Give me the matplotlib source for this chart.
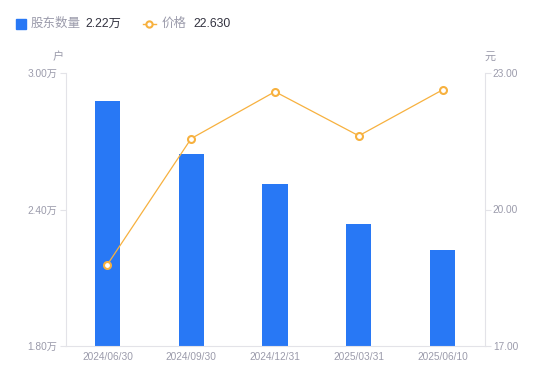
import matplotlib
matplotlib.use("Agg")
import matplotlib.pyplot as plt
from matplotlib.lines import Line2D

plt.rcParams['font.family'] = ['Liberation Sans', 'Noto Sans CJK SC', 'DejaVu Sans']

categories = ["2024/06/30", "2024/09/30", "2024/12/31", "2025/03/31", "2025/06/10"]
holders = [2.875, 2.643, 2.512, 2.336, 2.22]   # 万户
prices = [18.79, 21.56, 22.59, 21.62, 22.63]     # 元
left_ticks = [1.80, 2.40, 3.00]
right_ticks = [17.00, 20.00, 23.00]

bar_color = "#2878f5"
line_color = "#f7b13f"
grey = "#9b9bab"
axis_grey = "#e3e3e8"

fig = plt.figure(figsize=(5.5, 3.81), dpi=100)
ax = fig.add_axes([65.5/550, 1-346/381, 419/550, 273/381])
x = list(range(len(categories)))
ax.bar(x, holders, width=0.3, color=bar_color, zorder=2)
ax.set_xlim(-0.5, 4.5)
ax.set_ylim(1.80, 3.00)
ax.set_yticks(left_ticks)
ax.set_yticklabels([f"{v:.2f}万" for v in left_ticks])
ax.set_xticks(x)
ax.set_xticklabels(categories)

ax2 = ax.twinx()
ax2.plot(x, prices, color=line_color, lw=0.9, marker='o', markersize=5,
         markerfacecolor='white', markeredgecolor=line_color, markeredgewidth=1.5, zorder=3)
ax2.set_ylim(17.0, 23.0)
ax2.set_yticks(right_ticks)
ax2.set_yticklabels([f"{v:.2f}" for v in right_ticks])

for a in (ax, ax2):
    for s in a.spines.values():
        s.set_visible(False)
ax.spines['left'].set_visible(True)
ax.spines['left'].set_color(axis_grey)
ax.spines['bottom'].set_visible(True)
ax.spines['bottom'].set_color(axis_grey)
ax2.spines['right'].set_visible(True)
ax2.spines['right'].set_color(axis_grey)

ax.tick_params(axis='y', colors=axis_grey, labelcolor=grey, labelsize=7.3, length=4, width=0.8, pad=2)
ax.tick_params(axis='x', length=0, labelcolor=grey, labelsize=7.3, pad=4)
ax2.tick_params(axis='y', colors=axis_grey, labelcolor=grey, labelsize=7.3, length=4, width=0.8, pad=2)

fig.text(58/550, 1-57/381, "户", color=grey, fontsize=8, ha='center', va='center')
fig.text(490/550, 1-57/381, "元", color=grey, fontsize=8, ha='center', va='center')

# legend
ly = 1-24/381
fig.patches.append(plt.Rectangle((16/550, 1-29/381), 10/550, 10/381, transform=fig.transFigure,
                                 color=bar_color, figure=fig))
fig.text(31/550, ly, "股东数量", color=grey, fontsize=9, ha='left', va='center')
fig.text(85/550, ly, f"{holders[-1]:.2f}万", color="#333340", fontsize=8.8, ha='left', va='center')
fig.add_artist(Line2D([143/550, 156/550], [ly, ly], transform=fig.transFigure, color=line_color, lw=1))
fig.add_artist(Line2D([149.5/550], [ly], transform=fig.transFigure, marker='o', markersize=4.5,
                      markerfacecolor='white', markeredgecolor=line_color, markeredgewidth=1.5))
fig.text(162/550, ly, "价格", color=grey, fontsize=9, ha='left', va='center')
fig.text(193/550, ly, f"{prices[-1]:.3f}", color="#333340", fontsize=8.8, ha='left', va='center')

fig.savefig("out.png", dpi=100)
